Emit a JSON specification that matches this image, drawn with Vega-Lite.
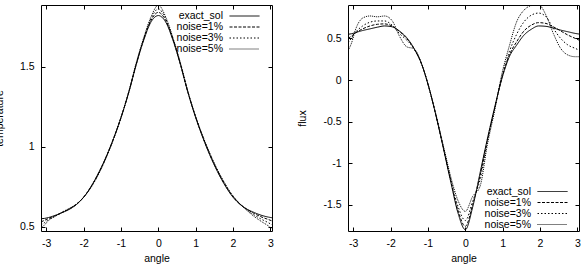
{
  "$schema": "https://vega.github.io/schema/vega-lite/v6.json",
  "padding": {"left": -7, "top": 4, "right": 0, "bottom": 0},
  "background": "#ffffff",
  "config": {
    "font": "Liberation Sans",
    "view": {"stroke": "#000000", "strokeWidth": 1},
    "axis": {
      "domain": false, "grid": false, "tickColor": "#000000", "tickSize": -4, "tickWidth": 1,
      "labelPadding": 11, "labelFont": "Liberation Sans", "labelFontSize": 10.5, "labelColor": "#000000",
      "titleFont": "Liberation Sans", "titleFontSize": 10.5, "titleFontWeight": "normal", "titleColor": "#000000",
      "labelExpr": "toString(datum.value)", "labelFlush": false, "labelOverlap": false
    },
    "axisX": {"titlePadding": 5},
    "axisY": {"titlePadding": 15},
    "legend": {
      "title": null, "orient": "none", "symbolType": "M-3,0H3", "symbolSize": 100, "symbolStrokeWidth": 1,
      "symbolStrokeColor": "#000000", "symbolFillColor": "transparent", "labelAlign": "right", "labelOffset": -27, "labelFont": "Liberation Sans",
      "labelFontSize": 10.5, "labelColor": "#000000", "rowPadding": -1, "padding": 0
    }
  },
  "datasets": {
    "d": [
      {"angle": -3.142, "series": "exact_sol", "temperature": 0.550, "flux": 0.550},
      {"angle": -3.142, "series": "noise=1%", "temperature": 0.530, "flux": 0.500},
      {"angle": -3.142, "series": "noise=3%", "temperature": 0.510, "flux": 0.450},
      {"angle": -3.142, "series": "noise=5%", "temperature": 0.490, "flux": 0.350},
      {"angle": -3.043, "series": "exact_sol", "temperature": 0.552, "flux": 0.557},
      {"angle": -3.043, "series": "noise=1%", "temperature": 0.540, "flux": 0.530},
      {"angle": -3.043, "series": "noise=3%", "temperature": 0.526, "flux": 0.505},
      {"angle": -3.043, "series": "noise=5%", "temperature": 0.512, "flux": 0.450},
      {"angle": -2.945, "series": "exact_sol", "temperature": 0.557, "flux": 0.570},
      {"angle": -2.945, "series": "noise=1%", "temperature": 0.551, "flux": 0.565},
      {"angle": -2.945, "series": "noise=3%", "temperature": 0.544, "flux": 0.570},
      {"angle": -2.945, "series": "noise=5%", "temperature": 0.537, "flux": 0.600},
      {"angle": -2.749, "series": "exact_sol", "temperature": 0.572, "flux": 0.595},
      {"angle": -2.749, "series": "noise=1%", "temperature": 0.570, "flux": 0.615},
      {"angle": -2.749, "series": "noise=3%", "temperature": 0.568, "flux": 0.650},
      {"angle": -2.749, "series": "noise=5%", "temperature": 0.566, "flux": 0.745},
      {"angle": -2.553, "series": "exact_sol", "temperature": 0.590, "flux": 0.615},
      {"angle": -2.553, "series": "noise=1%", "temperature": 0.591, "flux": 0.650},
      {"angle": -2.553, "series": "noise=3%", "temperature": 0.592, "flux": 0.695},
      {"angle": -2.553, "series": "noise=5%", "temperature": 0.594, "flux": 0.770},
      {"angle": -2.356, "series": "exact_sol", "temperature": 0.612, "flux": 0.635},
      {"angle": -2.356, "series": "noise=1%", "temperature": 0.614, "flux": 0.670},
      {"angle": -2.356, "series": "noise=3%", "temperature": 0.616, "flux": 0.710},
      {"angle": -2.356, "series": "noise=5%", "temperature": 0.618, "flux": 0.760},
      {"angle": -2.160, "series": "exact_sol", "temperature": 0.645, "flux": 0.650},
      {"angle": -2.160, "series": "noise=1%", "temperature": 0.646, "flux": 0.675},
      {"angle": -2.160, "series": "noise=3%", "temperature": 0.647, "flux": 0.710},
      {"angle": -2.160, "series": "noise=5%", "temperature": 0.648, "flux": 0.770},
      {"angle": -1.963, "series": "exact_sol", "temperature": 0.695, "flux": 0.640},
      {"angle": -1.963, "series": "noise=1%", "temperature": 0.695, "flux": 0.650},
      {"angle": -1.963, "series": "noise=3%", "temperature": 0.695, "flux": 0.660},
      {"angle": -1.963, "series": "noise=5%", "temperature": 0.694, "flux": 0.715},
      {"angle": -1.767, "series": "exact_sol", "temperature": 0.765, "flux": 0.590},
      {"angle": -1.767, "series": "noise=1%", "temperature": 0.763, "flux": 0.585},
      {"angle": -1.767, "series": "noise=3%", "temperature": 0.761, "flux": 0.560},
      {"angle": -1.767, "series": "noise=5%", "temperature": 0.758, "flux": 0.530},
      {"angle": -1.571, "series": "exact_sol", "temperature": 0.850, "flux": 0.510},
      {"angle": -1.571, "series": "noise=1%", "temperature": 0.848, "flux": 0.500},
      {"angle": -1.571, "series": "noise=3%", "temperature": 0.845, "flux": 0.480},
      {"angle": -1.571, "series": "noise=5%", "temperature": 0.842, "flux": 0.400},
      {"angle": -1.374, "series": "exact_sol", "temperature": 0.950, "flux": 0.380},
      {"angle": -1.374, "series": "noise=1%", "temperature": 0.948, "flux": 0.378},
      {"angle": -1.374, "series": "noise=3%", "temperature": 0.946, "flux": 0.375},
      {"angle": -1.374, "series": "noise=5%", "temperature": 0.944, "flux": 0.375},
      {"angle": -1.178, "series": "exact_sol", "temperature": 1.065, "flux": 0.200},
      {"angle": -1.178, "series": "noise=1%", "temperature": 1.064, "flux": 0.200},
      {"angle": -1.178, "series": "noise=3%", "temperature": 1.062, "flux": 0.200},
      {"angle": -1.178, "series": "noise=5%", "temperature": 1.060, "flux": 0.205},
      {"angle": -0.982, "series": "exact_sol", "temperature": 1.195, "flux": -0.080},
      {"angle": -0.982, "series": "noise=1%", "temperature": 1.195, "flux": -0.080},
      {"angle": -0.982, "series": "noise=3%", "temperature": 1.195, "flux": -0.080},
      {"angle": -0.982, "series": "noise=5%", "temperature": 1.195, "flux": -0.075},
      {"angle": -0.785, "series": "exact_sol", "temperature": 1.345, "flux": -0.430},
      {"angle": -0.785, "series": "noise=1%", "temperature": 1.346, "flux": -0.430},
      {"angle": -0.785, "series": "noise=3%", "temperature": 1.348, "flux": -0.425},
      {"angle": -0.785, "series": "noise=5%", "temperature": 1.350, "flux": -0.420},
      {"angle": -0.589, "series": "exact_sol", "temperature": 1.515, "flux": -0.820},
      {"angle": -0.589, "series": "noise=1%", "temperature": 1.518, "flux": -0.815},
      {"angle": -0.589, "series": "noise=3%", "temperature": 1.522, "flux": -0.805},
      {"angle": -0.589, "series": "noise=5%", "temperature": 1.526, "flux": -0.790},
      {"angle": -0.393, "series": "exact_sol", "temperature": 1.665, "flux": -1.220},
      {"angle": -0.393, "series": "noise=1%", "temperature": 1.670, "flux": -1.210},
      {"angle": -0.393, "series": "noise=3%", "temperature": 1.675, "flux": -1.190},
      {"angle": -0.393, "series": "noise=5%", "temperature": 1.680, "flux": -1.160},
      {"angle": -0.196, "series": "exact_sol", "temperature": 1.780, "flux": -1.600},
      {"angle": -0.196, "series": "noise=1%", "temperature": 1.790, "flux": -1.570},
      {"angle": -0.196, "series": "noise=3%", "temperature": 1.800, "flux": -1.520},
      {"angle": -0.196, "series": "noise=5%", "temperature": 1.812, "flux": -1.450},
      {"angle": 0.000, "series": "exact_sol", "temperature": 1.820, "flux": -1.800},
      {"angle": 0.000, "series": "noise=1%", "temperature": 1.840, "flux": -1.760},
      {"angle": 0.000, "series": "noise=3%", "temperature": 1.862, "flux": -1.690},
      {"angle": 0.000, "series": "noise=5%", "temperature": 1.885, "flux": -1.580},
      {"angle": 0.196, "series": "exact_sol", "temperature": 1.780, "flux": -1.530},
      {"angle": 0.196, "series": "noise=1%", "temperature": 1.790, "flux": -1.500},
      {"angle": 0.196, "series": "noise=3%", "temperature": 1.800, "flux": -1.460},
      {"angle": 0.196, "series": "noise=5%", "temperature": 1.812, "flux": -1.400},
      {"angle": 0.393, "series": "exact_sol", "temperature": 1.665, "flux": -1.120},
      {"angle": 0.393, "series": "noise=1%", "temperature": 1.670, "flux": -1.150},
      {"angle": 0.393, "series": "noise=3%", "temperature": 1.675, "flux": -1.200},
      {"angle": 0.393, "series": "noise=5%", "temperature": 1.680, "flux": -1.280},
      {"angle": 0.589, "series": "exact_sol", "temperature": 1.515, "flux": -0.710},
      {"angle": 0.589, "series": "noise=1%", "temperature": 1.518, "flux": -0.720},
      {"angle": 0.589, "series": "noise=3%", "temperature": 1.522, "flux": -0.740},
      {"angle": 0.589, "series": "noise=5%", "temperature": 1.526, "flux": -0.780},
      {"angle": 0.785, "series": "exact_sol", "temperature": 1.345, "flux": -0.330},
      {"angle": 0.785, "series": "noise=1%", "temperature": 1.347, "flux": -0.335},
      {"angle": 0.785, "series": "noise=3%", "temperature": 1.349, "flux": -0.345},
      {"angle": 0.785, "series": "noise=5%", "temperature": 1.351, "flux": -0.370},
      {"angle": 0.982, "series": "exact_sol", "temperature": 1.195, "flux": 0.020},
      {"angle": 0.982, "series": "noise=1%", "temperature": 1.197, "flux": 0.030},
      {"angle": 0.982, "series": "noise=3%", "temperature": 1.199, "flux": 0.050},
      {"angle": 0.982, "series": "noise=5%", "temperature": 1.201, "flux": 0.080},
      {"angle": 1.178, "series": "exact_sol", "temperature": 1.065, "flux": 0.280},
      {"angle": 1.178, "series": "noise=1%", "temperature": 1.068, "flux": 0.300},
      {"angle": 1.178, "series": "noise=3%", "temperature": 1.071, "flux": 0.340},
      {"angle": 1.178, "series": "noise=5%", "temperature": 1.074, "flux": 0.410},
      {"angle": 1.374, "series": "exact_sol", "temperature": 0.950, "flux": 0.420},
      {"angle": 1.374, "series": "noise=1%", "temperature": 0.954, "flux": 0.460},
      {"angle": 1.374, "series": "noise=3%", "temperature": 0.958, "flux": 0.550},
      {"angle": 1.374, "series": "noise=5%", "temperature": 0.962, "flux": 0.700},
      {"angle": 1.571, "series": "exact_sol", "temperature": 0.850, "flux": 0.540},
      {"angle": 1.571, "series": "noise=1%", "temperature": 0.854, "flux": 0.590},
      {"angle": 1.571, "series": "noise=3%", "temperature": 0.858, "flux": 0.700},
      {"angle": 1.571, "series": "noise=5%", "temperature": 0.862, "flux": 0.840},
      {"angle": 1.767, "series": "exact_sol", "temperature": 0.765, "flux": 0.610},
      {"angle": 1.767, "series": "noise=1%", "temperature": 0.769, "flux": 0.660},
      {"angle": 1.767, "series": "noise=3%", "temperature": 0.773, "flux": 0.780},
      {"angle": 1.767, "series": "noise=5%", "temperature": 0.777, "flux": 0.895},
      {"angle": 1.963, "series": "exact_sol", "temperature": 0.695, "flux": 0.650},
      {"angle": 1.963, "series": "noise=1%", "temperature": 0.698, "flux": 0.690},
      {"angle": 1.963, "series": "noise=3%", "temperature": 0.701, "flux": 0.805},
      {"angle": 1.963, "series": "noise=5%", "temperature": 0.704, "flux": 0.905},
      {"angle": 2.160, "series": "exact_sol", "temperature": 0.645, "flux": 0.645},
      {"angle": 2.160, "series": "noise=1%", "temperature": 0.647, "flux": 0.680},
      {"angle": 2.160, "series": "noise=3%", "temperature": 0.648, "flux": 0.760},
      {"angle": 2.160, "series": "noise=5%", "temperature": 0.649, "flux": 0.780},
      {"angle": 2.356, "series": "exact_sol", "temperature": 0.612, "flux": 0.625},
      {"angle": 2.356, "series": "noise=1%", "temperature": 0.611, "flux": 0.640},
      {"angle": 2.356, "series": "noise=3%", "temperature": 0.608, "flux": 0.620},
      {"angle": 2.356, "series": "noise=5%", "temperature": 0.605, "flux": 0.560},
      {"angle": 2.553, "series": "exact_sol", "temperature": 0.590, "flux": 0.600},
      {"angle": 2.553, "series": "noise=1%", "temperature": 0.584, "flux": 0.590},
      {"angle": 2.553, "series": "noise=3%", "temperature": 0.575, "flux": 0.500},
      {"angle": 2.553, "series": "noise=5%", "temperature": 0.566, "flux": 0.380},
      {"angle": 2.749, "series": "exact_sol", "temperature": 0.572, "flux": 0.580},
      {"angle": 2.749, "series": "noise=1%", "temperature": 0.562, "flux": 0.540},
      {"angle": 2.749, "series": "noise=3%", "temperature": 0.548, "flux": 0.420},
      {"angle": 2.749, "series": "noise=5%", "temperature": 0.534, "flux": 0.300},
      {"angle": 2.945, "series": "exact_sol", "temperature": 0.560, "flux": 0.560},
      {"angle": 2.945, "series": "noise=1%", "temperature": 0.545, "flux": 0.500},
      {"angle": 2.945, "series": "noise=3%", "temperature": 0.525, "flux": 0.380},
      {"angle": 2.945, "series": "noise=5%", "temperature": 0.505, "flux": 0.280},
      {"angle": 3.043, "series": "exact_sol", "temperature": 0.556, "flux": 0.553},
      {"angle": 3.043, "series": "noise=1%", "temperature": 0.536, "flux": 0.480},
      {"angle": 3.043, "series": "noise=3%", "temperature": 0.512, "flux": 0.360},
      {"angle": 3.043, "series": "noise=5%", "temperature": 0.488, "flux": 0.280}
    ]
  },
  "data": {"name": "d"},
  "spacing": 23,
  "resolve": {"scale": {"strokeDash": "independent"}, "legend": {"strokeDash": "independent"}},
  "hconcat": [
    {
      "width": 231,
      "height": 226,
      "layer": [
        {
          "mark": {"type": "line", "color": "#000000", "strokeWidth": 1, "interpolate": "monotone", "clip": true},
          "encoding": {
            "x": {"field": "angle", "type": "quantitative", "scale": {"domain": [-3.1416, 3.0434], "nice": false, "zero": false},
                  "axis": {"orient": "bottom", "values": [-3, -2, -1, 0, 1, 2, 3], "title": "angle"}},
            "y": {"field": "temperature", "type": "quantitative", "scale": {"domain": [0.473, 1.886], "nice": false, "zero": false},
                  "axis": {"orient": "left", "values": [0.5, 1, 1.5], "title": "temperature"}},
            "strokeDash": {"field": "series", "type": "nominal",
                  "scale": {"domain": ["exact_sol", "noise=1%", "noise=3%", "noise=5%"], "range": [[1, 0], [3, 1.5], [1.5, 2], [1, 1]]},
                  "legend": {"legendX": 198, "legendY": 5.5}}
          }
        },
        {
          "mark": {"type": "line", "opacity": 0},
          "encoding": {
            "x": {"field": "angle", "type": "quantitative", "axis": {"orient": "top", "values": [-3, -2, -1, 0, 1, 2, 3], "labels": false, "title": null}},
            "y": {"field": "temperature", "type": "quantitative", "axis": {"orient": "right", "values": [0.5, 1, 1.5], "labels": false, "title": null}},
            "detail": {"field": "series"}
          }
        }
      ],
      "resolve": {"axis": {"x": "independent", "y": "independent"}}
    },
    {
      "width": 231,
      "height": 226,
      "layer": [
        {
          "mark": {"type": "line", "color": "#000000", "strokeWidth": 1, "interpolate": "monotone", "clip": true},
          "encoding": {
            "x": {"field": "angle", "type": "quantitative", "scale": {"domain": [-3.1416, 3.0434], "nice": false, "zero": false},
                  "axis": {"orient": "bottom", "values": [-3, -2, -1, 0, 1, 2, 3], "title": "angle"}},
            "y": {"field": "flux", "type": "quantitative", "scale": {"domain": [-1.816, 0.902], "nice": false, "zero": false},
                  "axis": {"orient": "left", "values": [-1.5, -1, -0.5, 0, 0.5], "title": "flux"}},
            "strokeDash": {"field": "series", "type": "nominal",
                  "scale": {"domain": ["exact_sol", "noise=1%", "noise=3%", "noise=5%"], "range": [[1, 0], [3, 1.5], [1.5, 2], [1, 1]]},
                  "legend": {"legendX": 199, "legendY": 181}}
          }
        },
        {
          "mark": {"type": "line", "opacity": 0},
          "encoding": {
            "x": {"field": "angle", "type": "quantitative", "axis": {"orient": "top", "values": [-3, -2, -1, 0, 1, 2, 3], "labels": false, "title": null}},
            "y": {"field": "flux", "type": "quantitative", "axis": {"orient": "right", "values": [-1.5, -1, -0.5, 0, 0.5], "labels": false, "title": null}},
            "detail": {"field": "series"}
          }
        }
      ],
      "resolve": {"axis": {"x": "independent", "y": "independent"}}
    }
  ]
}
